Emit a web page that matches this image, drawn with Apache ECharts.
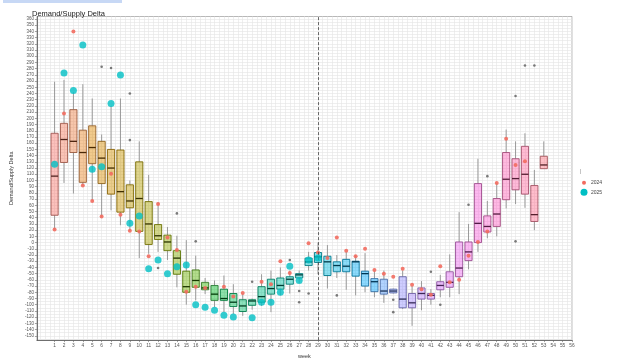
<!DOCTYPE html>
<html><head><meta charset="utf-8">
<script src="https://cdn.jsdelivr.net/npm/echarts@6/dist/echarts.min.js"></script>
<style>html,body{margin:0;padding:0;background:#fff}#c{width:622px;height:364px}</style>
</head><body><div id="c"></div>
<script>
// ---- data ----
const weeks = [1,2,3,4,5,6,7,8,9,10,11,12,13,14,15,16,17,18,19,20,21,22,23,24,25,26,27,28,29,30,31,32,33,34,35,36,37,38,39,40,41,42,43,44,45,46,47,48,49,50,51,52,53];
const whiskerLow = [21,96,79,92,67,41,52,28,19,-25,-18,-15,-28,-72,-100,-93,-83,-104,-112,-115,-118,-108,-102,-112,-85,-82,-65,-45,-51,-74,-57,-76,-85,-80,-88,-97,-82,-107,-134,-109,-100,-88,-88,-83,-43,-15,7,10,55,62,56,20,119];
const q1 = [44,129,145,97,127,95,78,49,56,18,-3,5,-13,-51,-80,-72,-76,-93,-93,-103,-111,-101,-96,-83,-75,-67,-57,-37,-32,-53,-47,-47,-54,-70,-79,-83,-81,-105,-105,-91,-91,-76,-72,-55,-29,0,17,26,69,85,78,34,119];
const median = [107,166,163,145,153,136,120,82,67,71,30,11,1,-25,-71,-61,-73,-83,-90,-96,-102,-94,-87,-74,-69,-59,-52,-31,-23,-31,-37,-38,-31,-50,-63,-78,-78,-91,-97,-82,-85,-69,-64,-41,-15,31,26,46,102,103,110,45,125];
const q3 = [176,192,214,181,188,163,150,149,93,130,66,29,12,-13,-46,-44,-64,-69,-75,-82,-92,-92,-71,-59,-57,-55,-50,-25,-16,-22,-31,-27,-30,-46,-58,-59,-75,-55,-82,-73,-82,-63,-47,1,1,95,43,71,145,135,155,92,139];
const whiskerHigh = [259,262,242,255,232,174,220,232,100,163,109,65,25,11,4,-21,-57,-61,-53,-67,-82,-90,-51,-45,-40,-45,-45,-15,0,-4,-20,-15,-20,-17,-45,-45,-74,-45,-70,-62,-75,-52,-19,49,30,135,67,96,182,163,176,117,163];
const weeks2024 = [1,2,3,4,5,6,7,8,9,10,11,12,13,14,15,16,17,19,20,21,23,24,25,26,28,29,30,31,32,33,34,35,36,37,38,39,40,41,42,43,44,45,46,47,48,49,50,51];
const values2024 = [21,208,340,92,67,42,111,45,19,18,-22,62,8,-12,-79,-71,-73,-71,-87,-81,-63,-67,-30,-49,-1,-16,-25,8,-13,-22,-10,-44,-50,-55,-42,-68,-75,-84,-38,-64,-60,-21,1,18,96,167,125,131];
const weeks2025 = [1,2,3,4,5,6,7,8,9,10,11,12,13,14,15,16,17,18,19,20,22,23,24,25,26,27,28,29];
const values2025 = [126,273,245,318,118,122,224,270,31,43,-42,-28,-50,-39,-36,-100,-104,-109,-117,-120,-121,-96,-96,-80,-38,-61,-28,-25];
const outlierWeeks = [6,7,9,9,12,14,16,22,26,27,27,28,31,37,37,41,42,45,47,50,50,51,52];
const outlierValues = [283,281,240,165,-41,47,2,-63,-28,-78,-96,-82,-85,-92,-112,-47,-100,61,107,236,2,285,285];
const xTickLabels = [1,2,3,4,5,6,7,8,9,10,11,12,13,14,15,16,17,18,19,20,21,22,23,24,25,26,27,28,29,30,31,32,33,34,35,36,37,38,39,40,41,42,43,44,45,46,47,48,49,50,51,52,53,54,55,56];
const yTickLabels = [-150,-140,-130,-120,-110,-100,-90,-80,-70,-60,-50,-40,-30,-20,-10,0,10,20,30,40,50,60,70,80,90,100,110,120,130,140,150,160,170,180,190,200,210,220,230,240,250,260,270,280,290,300,310,320,330,340,350,360];
const dividerWeek = 29;

// ---- colours (ggplot-like hue palette) ----
function hcl(h, c, l, a) {
  const hr = h * Math.PI / 180, U = c * Math.cos(hr), V = c * Math.sin(hr);
  const Xn = 95.047, Yn = 100, Zn = 108.883, d = Xn + 15 * Yn + 3 * Zn;
  const un = 4 * Xn / d, vn = 9 * Yn / d;
  const Y = l > 8 ? Yn * Math.pow((l + 16) / 116, 3) : Yn * l / 903.3;
  const u = U / (13 * l) + un, v = V / (13 * l) + vn;
  const X = 9 * Y * u / (4 * v), Z = Y * (12 - 3 * u - 20 * v) / (4 * v);
  const x = X / 100, y = Y / 100, z = Z / 100;
  const lin = [3.2404542*x - 1.5371385*y - 0.4985314*z, -0.9692660*x + 1.8760108*y + 0.0415560*z, 0.0556434*x - 0.2040259*y + 1.0572252*z];
  const rgb = lin.map(t => { t = t <= 0.0031308 ? 12.92 * t : 1.055 * Math.pow(t, 1 / 2.4) - 0.055; return Math.round(Math.max(0, Math.min(1, t)) * 255); });
  return 'rgba(' + rgb.join(',') + ',' + (a == null ? 1 : a) + ')';
}
const nW = weeks.length;
const hueOf = i => 15 + i * 360 / nW;
const fills = weeks.map((w, i) => hcl(hueOf(i), 100, 65, 0.45));
const borders = weeks.map((w, i) => hcl(hueOf(i), 55, 45));
const medians = weeks.map((w, i) => hcl(hueOf(i), 30, 20));

const boxData = weeks.map((w, i) => [w, whiskerLow[i], q1[i], median[i], q3[i], whiskerHigh[i]]);

function renderBox(params, api) {
  const i = params.dataIndex;
  const w = api.value(0);
  const pL = api.coord([w, api.value(1)]);
  const p1 = api.coord([w, api.value(2)]);
  const pM = api.coord([w, api.value(3)]);
  const p3 = api.coord([w, api.value(4)]);
  const pH = api.coord([w, api.value(5)]);
  const half = api.size([0.76, 0])[0] / 2;
  const wc = '#8f8f8f';
  return { type: 'group', children: [
    { type: 'line', shape: { x1: pL[0], y1: pL[1], x2: p1[0], y2: p1[1] }, style: { stroke: wc, lineWidth: 0.9 } },
    { type: 'line', shape: { x1: p3[0], y1: p3[1], x2: pH[0], y2: pH[1] }, style: { stroke: wc, lineWidth: 0.9 } },
    { type: 'rect', shape: { x: p3[0] - half, y: p3[1], width: half * 2, height: Math.max(p1[1] - p3[1], 0.5) }, style: { fill: fills[i], stroke: borders[i], lineWidth: 0.9 } },
    { type: 'line', shape: { x1: pM[0] - half, y1: pM[1], x2: pM[0] + half, y2: pM[1] }, style: { stroke: medians[i], lineWidth: 1.3 } }
  ]};
}

const xMin = -0.88, xMax = 56, yMin = -157, yMax = 364;
const xGrid = [], yGrid = [];
for (let v = -0.5; v <= 56; v += 0.5) xGrid.push(v);
for (let v = -155; v <= 360; v += 5) yGrid.push(v);

const FONT = 'Liberation Sans';
const chart = echarts.init(document.getElementById('c'), null, { renderer: 'canvas' });
chart.setOption({
  animation: false,
  backgroundColor: '#fff',
  textStyle: { fontFamily: FONT },
  title: { text: 'Demand/Supply Delta', left: 27, top: 4.5, textStyle: { fontSize: 7.5, fontWeight: 'normal', color: '#222', fontFamily: FONT } },
  grid: { left: 29, right: 50, top: 16.5, bottom: 17, show: true, borderColor: '#9a9a9a', borderWidth: 0.7, containLabel: false },
  xAxis: [
    { type: 'value', min: xMin, max: xMax, position: 'bottom',
      axisLine: { show: true, onZero: false, lineStyle: { color: '#555', width: 0.8 } },
      axisTick: { show: true, length: 2, customValues: xTickLabels, lineStyle: { color: '#666', width: 0.6 } },
      axisLabel: { customValues: xTickLabels, fontSize: 4.8, color: '#555', margin: 3, fontFamily: FONT },
      splitLine: { show: false },
      name: 'week', nameLocation: 'middle', nameGap: 11, nameTextStyle: { fontSize: 5.5, color: '#333', fontFamily: FONT } },
    { type: 'value', min: xMin, max: xMax, position: 'bottom', axisLine: { show: false, onZero: false }, axisLabel: { show: false },
      axisTick: { show: false, customValues: xGrid }, splitLine: { show: true, lineStyle: { color: '#e4e4e4', width: 0.6 } } }
  ],
  yAxis: [
    { type: 'value', min: yMin, max: yMax,
      axisLine: { show: true, onZero: false, lineStyle: { color: '#555', width: 0.8 } },
      axisTick: { show: true, length: 2, customValues: yTickLabels, lineStyle: { color: '#666', width: 0.6 } },
      axisLabel: { customValues: yTickLabels, fontSize: 4.5, color: '#555', margin: 3, fontFamily: FONT },
      splitLine: { show: false },
      name: 'Demand/Supply Delta', nameLocation: 'middle', nameGap: 16, nameRotate: 90, nameTextStyle: { fontSize: 5.5, color: '#333', fontFamily: FONT } },
    { type: 'value', min: yMin, max: yMax, axisLine: { show: false, onZero: false }, axisLabel: { show: false },
      axisTick: { show: false, customValues: yGrid }, splitLine: { show: true, lineStyle: { color: '#e4e4e4', width: 0.6 } } }
  ],
  series: [
    { type: 'custom', name: 'box', xAxisIndex: 0, yAxisIndex: 0, data: boxData, encode: { x: 0, y: [1, 2, 3, 4, 5] }, renderItem: renderBox, z: 2,
      markLine: { silent: true, symbol: 'none', label: { show: false }, lineStyle: { color: '#444', type: [3, 2], width: 0.8 }, data: [{ xAxis: dividerWeek }] } },
    { type: 'scatter', name: 'outlier', xAxisIndex: 0, yAxisIndex: 0, data: outlierWeeks.map((w, i) => [w, outlierValues[i]]), symbolSize: 2.6, itemStyle: { color: '#5a5a5a', opacity: 0.8 }, z: 3 },
    { type: 'scatter', name: '2024', xAxisIndex: 0, yAxisIndex: 0, data: weeks2024.map((w, i) => [w, values2024[i]]), symbolSize: 4, itemStyle: { color: '#f26b5f', opacity: 0.9 }, z: 4 },
    { type: 'scatter', name: '2025', xAxisIndex: 0, yAxisIndex: 0, data: weeks2025.map((w, i) => [w, values2025[i]]), symbolSize: 7, itemStyle: { color: '#00bfc4' }, z: 5 }
  ],
  graphic: [
    { type: 'rect', shape: { x: 3, y: 0, width: 119, height: 3 }, style: { fill: '#c7d8f5' } },
    { type: 'text', x: 580, y: 169, style: { text: '|', fontSize: 5, fill: '#777', fontFamily: FONT } },
    { type: 'circle', shape: { cx: 584, cy: 182.7, r: 2 }, style: { fill: '#f26b5f' } },
    { type: 'text', x: 591, y: 180.2, style: { text: '2024', fontSize: 5, fill: '#444', fontFamily: FONT } },
    { type: 'circle', shape: { cx: 584, cy: 192.3, r: 3.5 }, style: { fill: '#00bfc4' } },
    { type: 'text', x: 591, y: 189.8, style: { text: '2025', fontSize: 5, fill: '#444', fontFamily: FONT } }
  ]
});
</script>
</body></html>
